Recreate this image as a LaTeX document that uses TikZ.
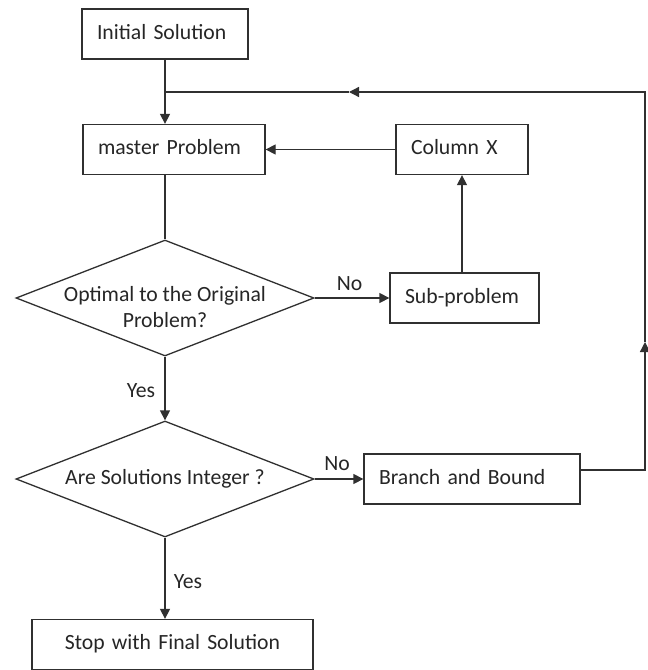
\documentclass[tikz,border=0pt]{standalone}
\usepackage{fontspec}
\setmainfont{Carlito}
\usetikzlibrary{arrows.meta,shapes.geometric}
\definecolor{ln}{HTML}{303030}
\definecolor{tx}{HTML}{262626}
\begin{document}
\begin{tikzpicture}[x=1bp,y=-1bp,
  every node/.style={font=\fontsize{21.7bp}{26bp}\selectfont, text=tx},
  procbox/.style={draw=ln, line width=1.3bp, minimum height=50bp, inner xsep=15bp, inner ysep=0pt,
    text height=15.5bp, text depth=5bp, align=left},
  decision/.style={draw=ln, line width=1.3bp, shape=diamond, inner sep=0pt,
    minimum width=298bp, minimum height=116bp},
  conn/.style={draw=ln, line width=1.3bp},
  arr/.style={conn, -{Triangle[length=10bp,width=10bp]}},
  lbl/.style={anchor=base, inner sep=0pt}
]
\useasboundingbox (0,0) rectangle (648,670);
\fill[white] (0,0) rectangle (648,670);

\node[procbox, text width=136bp] (init) at (165,34) {Initial Solution};
\node[procbox, text width=152bp] (master) at (174,149.5) {master Problem};
\node[procbox, text width=102bp] (colx) at (462,149.5) {Column X};
\node[decision] (d1) at (165,298) {};
\node[align=center, inner sep=0pt] (d1t) at (165,307.5) {Optimal to the Original\\Problem?};
\node[procbox, text width=119bp] (subp) at (464.5,298) {Sub-problem};
\node[decision] (d2) at (165,479) {};
\node[inner sep=0pt] (d2t) at (165,479) {Are Solutions Integer ?};
\node[procbox, text width=186bp] (bb) at (472,479) {Branch and Bound};
\node[procbox, text width=251bp, align=center] (stop) at (172.5,644.5) {Stop with Final Solution};

\node[lbl] (no1) at (349.5,290) {No};
\node[lbl] (no2) at (337,470) {No};
\node[lbl] (yes1) at (141,397) {Yes};
\node[lbl] (yes2) at (188,588) {Yes};

\coordinate (j) at (165,92);
\coordinate (rt) at (645,92);
\coordinate (a1) at (645,342);
\coordinate (a2) at (349,92);
\coordinate (bbout) at ([yshift=9bp]bb.east);

\draw[arr] (init.south) -- (master.north -| init.south);
\draw[arr] (colx.west) -- (master.east);
\draw[conn] (master.south -| d1.north) -- (d1.north);
\draw[arr] (d1.east) -- (subp.west);
\draw[arr] (colx.south |- subp.north) -- (colx.south);
\draw[arr] (d1.south) -- (d2.north);
\draw[arr] (d2.east) -- (bb.west);
\draw[arr] (d2.south) -- (d2.south |- stop.north);
\draw[arr] (bbout) -- (bbout -| rt) -- (a1);
\draw[arr] (a1) -- (rt) -- (a2);
\draw[conn] (a2) -- (j);
\end{tikzpicture}
\end{document}
